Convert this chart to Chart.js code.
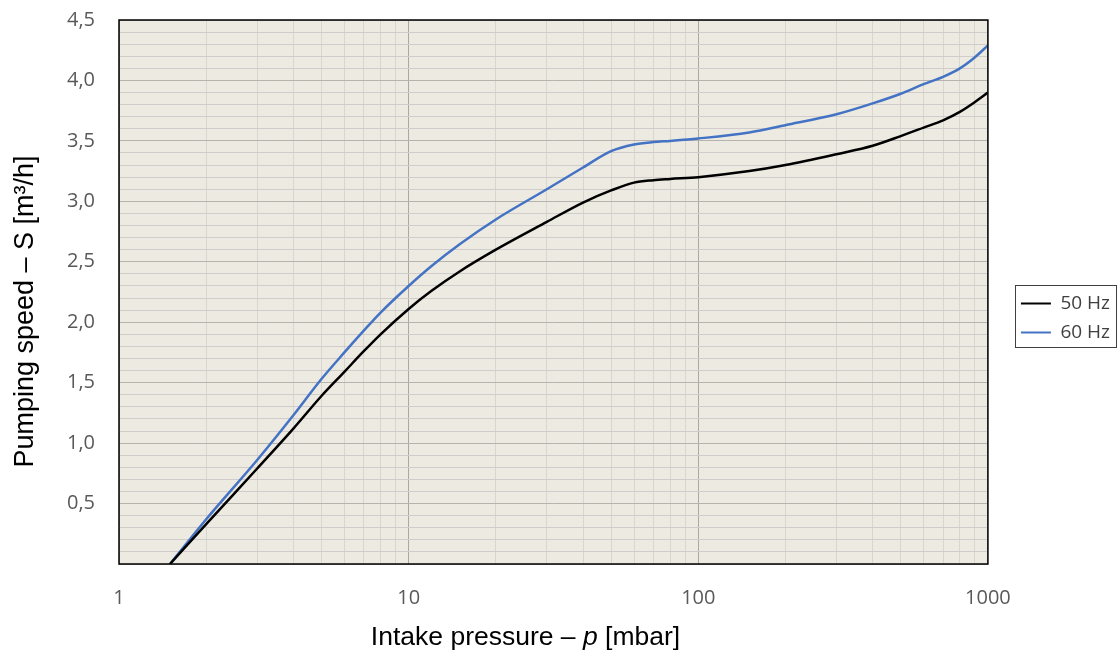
<!DOCTYPE html>
<html><head><meta charset="utf-8">
<script src="https://cdn.jsdelivr.net/npm/chart.js@4/dist/chart.umd.min.js"></script>
<style>html,body{margin:0;padding:0;background:#fff;overflow:hidden}#wrap{position:relative;width:1120px;height:653px}</style>
</head><body><div id="wrap"><canvas id="c" width="1120" height="653"></canvas></div>
<script>
// ---- data ----
const pressure  = [1.5, 2, 3, 4, 5, 6, 7, 8, 10, 12, 15, 20, 30, 40, 50, 60, 70, 80, 100, 150, 200, 300, 400, 500, 600, 700, 800, 900, 1000];
const speed50Hz = [0, 0.33, 0.79, 1.12, 1.39, 1.59, 1.76, 1.90, 2.11, 2.26, 2.42, 2.60, 2.83, 2.99, 3.09, 3.155, 3.175, 3.185, 3.20, 3.25, 3.30, 3.39, 3.46, 3.54, 3.61, 3.67, 3.74, 3.82, 3.90];
const speed60Hz = [0, 0.37, 0.86, 1.23, 1.53, 1.75, 1.93, 2.08, 2.30, 2.465, 2.645, 2.85, 3.10, 3.28, 3.415, 3.47, 3.49, 3.50, 3.52, 3.57, 3.63, 3.72, 3.81, 3.89, 3.97, 4.03, 4.10, 4.19, 4.29];
const seriesNames = ['50 Hz', '60 Hz'];
const xGridValues = [1,2,3,4,5,6,7,8,9,10,20,30,40,50,60,70,80,90,100,200,300,400,500,600,700,800,900,1000];
const xLabelValues = [1, 10, 100, 1000];
const yGridTenths = [0,1,2,3,4,5,6,7,8,9,10,11,12,13,14,15,16,17,18,19,20,21,22,23,24,25,26,27,28,29,30,31,32,33,34,35,36,37,38,39,40,41,42,43,44,45];
const yLabelTenths = [5, 10, 15, 20, 25, 30, 35, 40, 45];
const xTitle = ['Intake pressure – ', 'p', ' [mbar]'];
const yTitle = 'Pumping speed – S [m³/h]';

const TICK_FONT = {family: "'Open Sans', sans-serif", size: 20};
const TICK_COLOR = '#595959';

function zeroPad(s) { s.paddingTop = 0; s.paddingBottom = 0; s.paddingLeft = 0; s.paddingRight = 0; }

const plotDecor = {
  id: 'plotDecor',
  beforeDraw(chart) {
    const {ctx, chartArea: a} = chart;
    ctx.save();
    ctx.fillStyle = '#EDEBE1';
    ctx.fillRect(a.left, a.top, a.right - a.left, a.bottom - a.top);
    ctx.restore();
  },
  afterDraw(chart) {
    const {ctx, chartArea: a} = chart;
    ctx.save();
    ctx.strokeStyle = '#000';
    ctx.lineWidth = 1.5;
    ctx.strokeRect(a.left, a.top, a.right - a.left, a.bottom - a.top);
    // legend border
    const hb = chart.legend && chart.legend.legendHitBoxes;
    if (hb && hb.length) {
      let l = Infinity, r = -Infinity, t = Infinity, b = -Infinity;
      hb.forEach(h => { l = Math.min(l, h.left); r = Math.max(r, h.left + h.width); t = Math.min(t, h.top); b = Math.max(b, h.top + h.height); });
      ctx.strokeStyle = '#404040';
      ctx.lineWidth = 1;
      ctx.strokeRect(Math.round(l - 6) + 0.5, Math.round(t - 9) + 0.5, Math.round(r - l + 12), Math.round(b - t + 14));
    }
    // x title with italic p
    ctx.fillStyle = '#000';
    ctx.textBaseline = 'alphabetic';
    const fN = "26.5px 'Liberation Sans', Arial, sans-serif";
    const fI = "italic 26.5px 'Liberation Sans', Arial, sans-serif";
    const fonts = [fN, fI, fN];
    const widths = xTitle.map((s, i) => { ctx.font = fonts[i]; return ctx.measureText(s).width; });
    const total = widths.reduce((p, c) => p + c, 0);
    let x = 525.5 - total / 2;
    xTitle.forEach((s, i) => { ctx.font = fonts[i]; ctx.textAlign = 'left'; ctx.fillText(s, x, 645); x += widths[i]; });
    // y title
    ctx.save();
    ctx.translate(33, 311.5);
    ctx.rotate(-Math.PI / 2);
    ctx.font = "27px 'Liberation Sans', Arial, sans-serif";
    ctx.textAlign = 'center';
    ctx.fillText(yTitle, 0, 0);
    ctx.restore();
    ctx.restore();
  }
};

new Chart(document.getElementById('c'), {
  type: 'line',
  data: {
    datasets: [
      {label: seriesNames[0], data: pressure.map((p, i) => ({x: p, y: speed50Hz[i]})), borderColor: '#000000', backgroundColor: '#000000', borderWidth: 2.5, pointRadius: 0, cubicInterpolationMode: 'monotone'},
      {label: seriesNames[1], data: pressure.map((p, i) => ({x: p, y: speed60Hz[i]})), borderColor: '#4472C4', backgroundColor: '#4472C4', borderWidth: 2.5, pointRadius: 0, cubicInterpolationMode: 'monotone'}
    ]
  },
  options: {
    responsive: false,
    devicePixelRatio: 1,
    animation: false,
    layout: {padding: {left: 0, top: 20, right: 0, bottom: 37}},
    plugins: {
      tooltip: {enabled: false},
      legend: {
        position: 'right', align: 'center',
        labels: {boxWidth: 30, boxHeight: 2, padding: 10, color: '#404040', font: {family: "'Open Sans', sans-serif", size: 19},
          generateLabels: (chart) => Chart.defaults.plugins.legend.labels.generateLabels(chart).map(l => Object.assign(l, {lineWidth: 0, fillStyle: l.strokeStyle}))}
      }
    },
    scales: {
      x: {
        type: 'logarithmic', min: 1, max: 1000, position: 'bottom',
        afterBuildTicks(s) { s.ticks = xGridValues.map(v => ({value: v, major: xLabelValues.includes(v)})); },
        afterFit(s) { s.height = 52; zeroPad(s); },
        ticks: {autoSkip: false, maxRotation: 0, minRotation: 0, padding: 22, color: TICK_COLOR, font: TICK_FONT,
          callback: (v) => xLabelValues.includes(v) ? String(v) : ''},
        grid: {drawTicks: false, lineWidth: 1,
          color: (c) => (c.tick && xLabelValues.includes(c.tick.value)) ? '#ABA7A3' : '#D9D5D1'},
        border: {display: false},
        title: {display: false}
      },
      y: {
        type: 'linear', min: 0, max: 4.5, position: 'left',
        afterBuildTicks(s) { s.ticks = yGridTenths.map(t => ({value: t / 10})); },
        afterFit(s) { s.width = 119; zeroPad(s); },
        ticks: {autoSkip: false, padding: 24, color: TICK_COLOR, font: TICK_FONT,
          callback: (v) => { const t = Math.round(v * 10); return yLabelTenths.includes(t) ? (t / 10).toFixed(1).replace('.', ',') : ''; }},
        grid: {drawTicks: false, lineWidth: 1,
          color: (c) => { const t = Math.round((c.tick ? c.tick.value : 0) * 10); return (t % 5 === 0) ? '#B6B2AD' : '#D0CCCB'; }},
        border: {display: false},
        title: {display: false}
      },
      gap: {
        type: 'linear', position: 'right', display: true,
        afterFit(s) { s.width = 23; zeroPad(s); },
        ticks: {display: false}, grid: {display: false}, border: {display: false}
      }
    }
  },
  plugins: [plotDecor]
});
</script></body></html>
